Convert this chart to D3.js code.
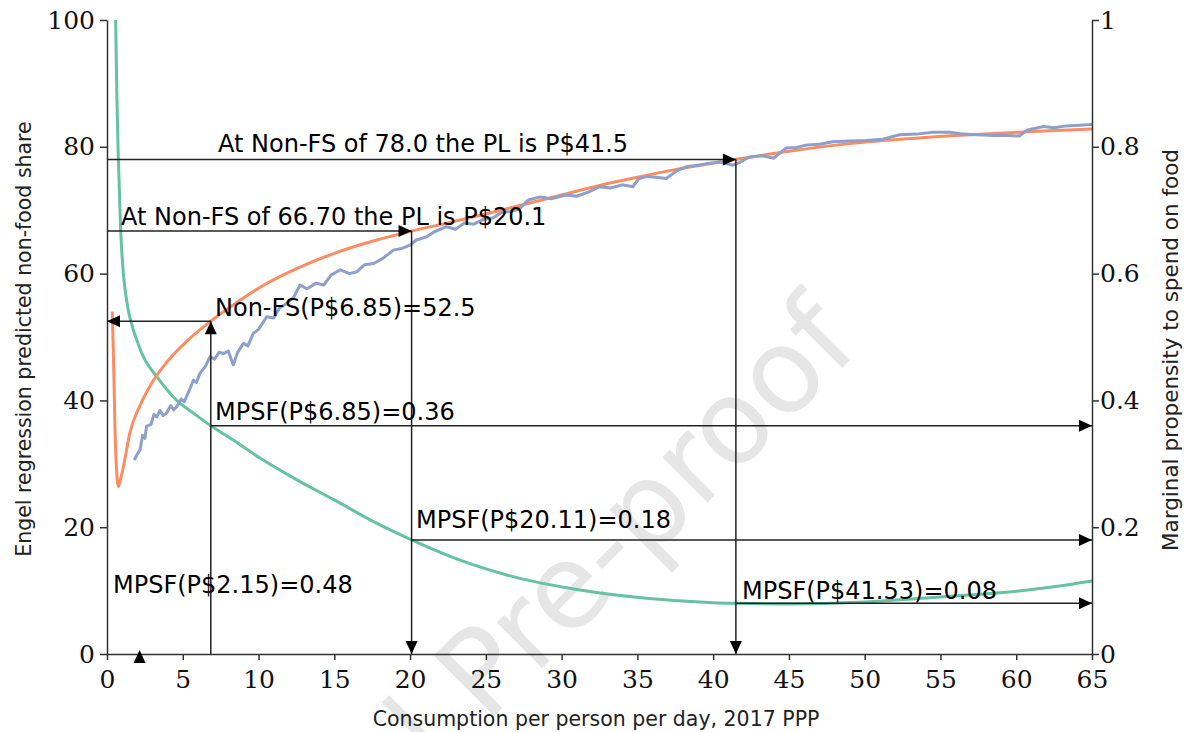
<!DOCTYPE html>
<html><head><meta charset="utf-8">
<script src="https://cdn.jsdelivr.net/npm/d3@7/dist/d3.min.js"></script>
<style>body{margin:0;background:#fff}svg{display:block}</style>
</head><body>
<svg id="c" width="1194" height="732"></svg>
<script>
// ---- data ----
const xTicks = [0,5,10,15,20,25,30,35,40,45,50,55,60,65];
const leftTicks = [0,20,40,60,80,100];
const rightTicks = [0,0.2,0.4,0.6,0.8,1];

const orangeX = [0.35,0.45,0.53,0.62,0.7,0.75,0.85,1.08,1.5,2.2,3.0,4.0,5.25,6.85,8.3,10.5,12.7,15,17.5,20.1,22.5,25,27.5,30,32.5,35,37.5,41.5,45,49,53,57,61,65];
const orangeY = [54,44.5,35.3,29.5,27,26.4,27.2,29.5,34.8,39.3,42.9,46.2,49.3,52.5,55.0,58.4,61.0,63.2,65.1,66.7,68.0,69.4,70.9,72.4,73.9,75.2,76.4,78.0,79.3,80.5,81.3,81.9,82.4,82.8];

const blueX = [1.8,2.0,2.18,2.35,2.5,2.61,2.9,3.1,3.28,3.5,3.7,3.93,4.2,4.4,4.59,4.9,5.1,5.25,5.5,5.7,5.9,6.14,6.5,6.8,7.1,7.4,7.7,8.0,8.34,8.6,9.0,9.3,9.66,10.0,10.54,11.0,11.4,11.85,12.3,12.74,13.2,13.8,14.3,14.8,15.4,16.0,16.5,17.0,17.6,18.2,18.9,19.5,20.0,20.4,21.1,21.6,22.4,23.0,23.6,24.2,24.8,25.5,26.0,26.6,27.2,27.8,28.6,29.3,30.3,31.0,31.8,32.5,33.2,34.0,34.7,35.1,35.6,36.2,36.9,37.6,38.3,39.0,39.8,40.5,41.3,41.8,42.4,43.2,44.0,44.8,45.5,46.2,47.0,47.9,49.0,50.1,51.2,52.3,53.4,54.5,55.6,56.5,57.4,58.5,59.4,60.2,60.7,61.8,62.5,63.3,64.2,65.0];
const blueY = [30.6,31.5,32.2,34.5,34.0,35.9,36.2,37.8,37.4,38.4,37.6,38.0,39.2,38.5,39.0,40.2,39.8,40.6,42.0,43.2,42.8,44.3,45.4,46.9,46.5,47.6,47.4,47.8,45.6,47.5,49.0,48.6,50.6,51.2,53.2,53.0,54.6,55.3,56.2,58.2,57.6,58.5,58.2,59.8,60.6,60.0,60.3,61.4,61.6,62.4,63.7,64.0,64.5,65.3,65.8,66.6,67.4,67.0,68.0,67.8,68.5,68.8,69.6,69.8,70.2,71.6,72.1,71.8,72.4,72.2,72.9,73.7,73.5,74.0,73.7,75.0,75.3,75.2,75.0,76.2,76.9,77.1,77.4,77.6,77.1,77.6,78.4,78.6,78.2,79.8,79.9,80.3,80.4,80.8,80.9,81.0,81.2,81.9,82.0,82.3,82.3,82.0,81.9,81.8,81.8,81.7,82.6,83.2,83.0,83.3,83.4,83.5];

const greenX = [0.57,0.65,0.75,0.9,1.1,1.25,1.4,1.74,2.0,2.4,3.3,4.6,5.7,6.85,8.3,10.1,12.5,15,17.5,20.1,23.3,26.8,31.2,35.6,40,41.5,45,50,55,60,62.5,65];
const greenY = [1.0,0.88,0.78,0.67,0.595,0.565,0.543,0.511,0.493,0.469,0.437,0.40,0.38,0.36,0.338,0.309,0.275,0.243,0.21,0.18,0.148,0.122,0.101,0.088,0.081,0.08,0.079,0.082,0.09,0.099,0.106,0.115];

// annotation values
const plFS = [{nfs:78.0, pl:41.5, label:"At Non-FS of 78.0 the PL is P$41.5"},
              {nfs:66.7, pl:20.1, label:"At Non-FS of 66.70 the PL is P$20.1"}];
const nfsPoint = {pl:6.85, nfs:52.5, label:"Non-FS(P$6.85)=52.5"};
const mpsfPts = [{pl:6.85, v:0.36, label:"MPSF(P$6.85)=0.36"},
                 {pl:20.11, v:0.18, label:"MPSF(P$20.11)=0.18"},
                 {pl:41.53, v:0.08, label:"MPSF(P$41.53)=0.08"}];
const mpsfLow = {pl:2.15, label:"MPSF(P$2.15)=0.48"};

// ---- drawing ----
const svg = d3.select("#c");
const m = {l:107, r:1092, t:20, b:654};
const x = d3.scaleLinear().domain([0,65]).range([m.l,m.r]);
const yL = d3.scaleLinear().domain([0,100]).range([m.b,m.t]);
const yR = d3.scaleLinear().domain([0,1]).range([m.b,m.t]);
const ink = "#222";
const sans = "DejaVu Sans, Verdana, sans-serif";
const serif = "DejaVu Serif, serif";

// watermark
svg.append("text").attr("transform","translate(518,692) rotate(-45)")
  .attr("text-anchor","middle").attr("font-family",sans).attr("font-size",117)
  .attr("fill","#e6e6e6").text("Journal Pre-proof");

// curves
const lineL = (xs,ys) => d3.line().curve(d3.curveMonotoneX).x((d,i)=>x(xs[i])).y((d,i)=>yL(ys[i]))(xs);
const lineR = (xs,ys) => d3.line().curve(d3.curveMonotoneX).x((d,i)=>x(xs[i])).y((d,i)=>yR(ys[i]))(xs);
const blueLine = d3.line().x((d,i)=>x(blueX[i])).y((d,i)=>yL(blueY[i]));

svg.append("path").attr("d",lineR(greenX,greenY)).attr("fill","none").attr("stroke","#66c2a5").attr("stroke-width",3);
svg.append("path").attr("d",lineL(orangeX,orangeY)).attr("fill","none").attr("stroke","#fc8d62").attr("stroke-width",3);
svg.append("path").attr("d",blueLine(blueX)).attr("fill","none").attr("stroke","#8da0cb").attr("stroke-width",3).attr("stroke-linejoin","round");

// axes
function styleAxis(g, fs){
  g.selectAll("path,line").attr("stroke","#333").attr("stroke-width",1.5);
  g.selectAll("text").attr("font-family",serif).attr("font-size",fs).attr("fill","#111");
}
const gx = svg.append("g").attr("transform",`translate(0,${m.b})`)
  .call(d3.axisBottom(x).tickValues(xTicks).tickSize(6).tickSizeOuter(0).tickPadding(10).tickFormat(d3.format("d")));
styleAxis(gx,25);
const gl = svg.append("g").attr("transform",`translate(${m.l},0)`)
  .call(d3.axisLeft(yL).tickValues(leftTicks).tickSize(7).tickSizeOuter(0).tickPadding(5).tickFormat(d3.format("d")));
styleAxis(gl,25);
const gr = svg.append("g").attr("transform",`translate(${m.r},0)`)
  .call(d3.axisRight(yR).tickValues(rightTicks).tickSize(7).tickSizeOuter(0).tickPadding(1).tickFormat(d=> d===0?"0":d===1?"1":d3.format(".1f")(d)));
styleAxis(gr,25);

// axis titles
svg.append("text").attr("x",596).attr("y",726).attr("text-anchor","middle")
  .attr("font-family",sans).attr("font-size",20.5).attr("fill",ink).text("Consumption per person per day, 2017 PPP");
svg.append("text").attr("transform","translate(31,339) rotate(-90)").attr("text-anchor","middle")
  .attr("font-family",sans).attr("font-size",20.5).attr("fill",ink).text("Engel regression predicted non-food share");
svg.append("text").attr("transform","translate(1178,350) rotate(-90)").attr("text-anchor","middle")
  .attr("font-family",sans).attr("font-size",21.5).attr("fill",ink).text("Marginal propensity to spend on food");

// arrow helpers
const A = 13, Wd = 6;
function seg(x1,y1,x2,y2){
  svg.append("line").attr("x1",x1).attr("y1",y1).attr("x2",x2).attr("y2",y2)
    .attr("stroke",ink).attr("stroke-width",1.5);
}
function arrow(tx,ty,dir){ // tip at (tx,ty), dir: r,l,u,d
  let p;
  if(dir==="r") p=[[tx,ty],[tx-A,ty-Wd],[tx-A,ty+Wd]];
  if(dir==="l") p=[[tx,ty],[tx+A,ty-Wd],[tx+A,ty+Wd]];
  if(dir==="u") p=[[tx,ty],[tx-Wd,ty+A],[tx+Wd,ty+A]];
  if(dir==="d") p=[[tx,ty],[tx-Wd,ty-A],[tx+Wd,ty-A]];
  svg.append("path").attr("d","M"+p.join("L")+"Z").attr("fill","#000");
}
function label(tx,ty,t){
  svg.append("text").attr("x",tx).attr("y",ty).attr("font-family",sans).attr("font-size",24).attr("fill","#000").text(t);
}

// poverty-line arrows from Non-FS
const plTextPos = [[218,152],[121,225]];
plFS.forEach((d,i)=>{
  seg(x(0),yL(d.nfs),x(d.pl),yL(d.nfs)); arrow(x(d.pl),yL(d.nfs),"r");
  seg(x(d.pl),yL(d.nfs),x(d.pl),yL(0)); arrow(x(d.pl),yL(0),"d");
  label(plTextPos[i][0],plTextPos[i][1],d.label);
});
// Non-FS at 6.85
seg(x(nfsPoint.pl),yL(0),x(nfsPoint.pl),yL(nfsPoint.nfs)); arrow(x(nfsPoint.pl),yL(nfsPoint.nfs),"u");
seg(x(nfsPoint.pl),yL(nfsPoint.nfs),x(0),yL(nfsPoint.nfs)); arrow(x(0),yL(nfsPoint.nfs),"l");
label(215,316,nfsPoint.label);
// MPSF arrows
const mpsfTextPos = [[215,420],[416,528],[742,599]];
mpsfPts.forEach((d,i)=>{
  seg(x(d.pl),yR(d.v),x(65),yR(d.v)); arrow(x(65),yR(d.v),"r");
  label(mpsfTextPos[i][0],mpsfTextPos[i][1],d.label);
});
label(113,593,mpsfLow.label);
// marker at P$2.15
arrow(x(mpsfLow.pl),yL(0)-4,"u");
</script>
</body></html>
